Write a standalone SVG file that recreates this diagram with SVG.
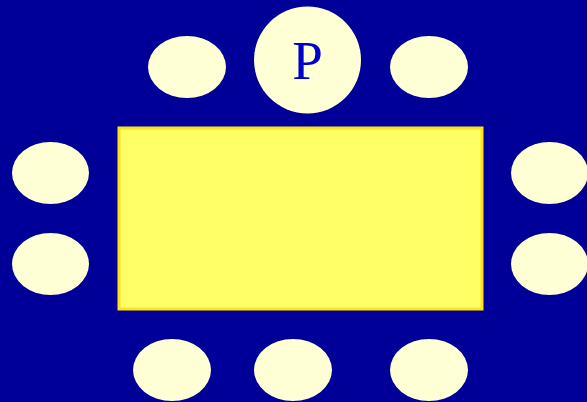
<svg xmlns="http://www.w3.org/2000/svg" width="587" height="402" viewBox="0 0 587 402">
<style>
.seat{fill:#FFFFD5;}
.table{fill:#FFFF66;stroke:#FFE21A;stroke-width:3;}
.lbl{font-family:"Liberation Serif",serif;font-size:55px;fill:#0000CC;text-anchor:middle;}
</style>
<rect x="0" y="0" width="587" height="402" fill="#000099"/>
<g id="table"><rect class="table" x="119" y="128" width="363" height="181"/></g>
<g id="president"><circle class="seat" cx="307.5" cy="60" r="53.5"/><text class="lbl" x="307.5" y="79">P</text></g>
<g id="seat-top-left"><ellipse class="seat" cx="187" cy="67" rx="39" ry="31"/></g>
<g id="seat-top-right"><ellipse class="seat" cx="429" cy="67" rx="39" ry="31"/></g>
<g id="seat-left-1"><ellipse class="seat" cx="50.5" cy="173" rx="38.5" ry="31"/></g>
<g id="seat-left-2"><ellipse class="seat" cx="50.5" cy="264" rx="38.5" ry="31"/></g>
<g id="seat-right-1"><ellipse class="seat" cx="549.5" cy="173" rx="38.5" ry="31"/></g>
<g id="seat-right-2"><ellipse class="seat" cx="549.5" cy="264" rx="38.5" ry="31"/></g>
<g id="seat-bottom-1"><ellipse class="seat" cx="172" cy="370" rx="39" ry="31"/></g>
<g id="seat-bottom-2"><ellipse class="seat" cx="293" cy="370" rx="39" ry="31"/></g>
<g id="seat-bottom-3"><ellipse class="seat" cx="429" cy="370" rx="39" ry="31"/></g>
<g id="connectors"></g>
</svg>
